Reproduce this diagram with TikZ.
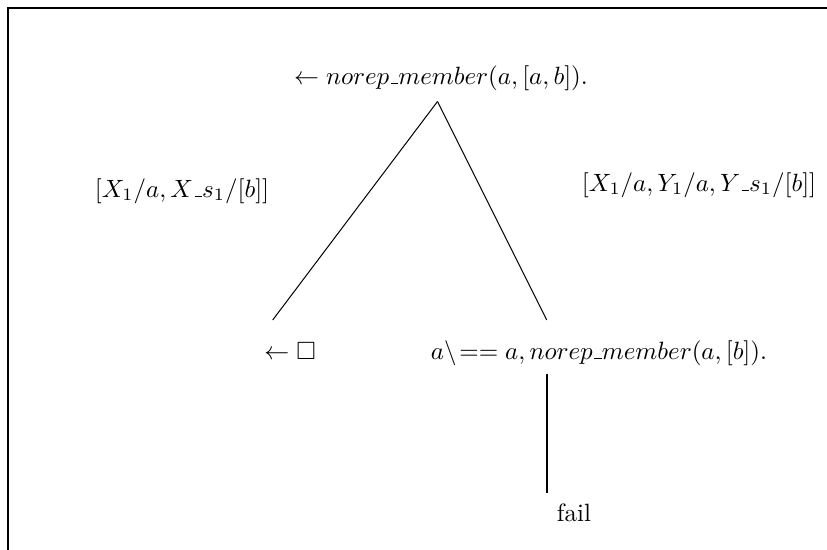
\documentclass[tikz,border=0pt]{standalone}
\usepackage{amssymb}
\newcommand\myusc{\mbox{\leavevmode\kern.06em\vbox{\hrule width.3em}}}
\begin{document}
\begin{tikzpicture}[x=0.4pt,y=-0.4pt,
  lbl/.style={inner sep=0pt,anchor=center},
  edge/.style={line width=0.4pt},
  failedge/.style={line width=0.8pt},
  framestyle/.style={line width=0.8pt}]
\useasboundingbox (0,0) rectangle (827,550);
\draw[framestyle] (8,550) -- (8,8) -- (827,8);
\node[lbl] (root) at (441,78) {$\leftarrow norep\myusc member(a,[a,b]).$};
\node[lbl] (ll) at (182,191) {$[X_1/a,X\myusc s_1/[b]]$};
\node[lbl] (rl) at (699,185) {$[X_1/a,Y_1/a,Y\myusc s_1/[b]]$};
\node[lbl] (left) at (290,351) {$\leftarrow\square$};
\node[lbl] (right) at (599,353) {$a\backslash\!== a, norep\myusc member(a,[b]).$};
\node[lbl] (fail) at (574,513) {fail};
\coordinate (apex) at (437.5,101.5);
\coordinate (lend) at (272.7,320);
\coordinate (rend) at (546.7,320);
\coordinate (ftop) at (547,374);
\coordinate (fbot) at (547,493);
\draw[edge] (apex) -- (lend);
\draw[edge] (apex) -- (rend);
\draw[failedge] (ftop) -- (fbot);
\end{tikzpicture}
\end{document}
